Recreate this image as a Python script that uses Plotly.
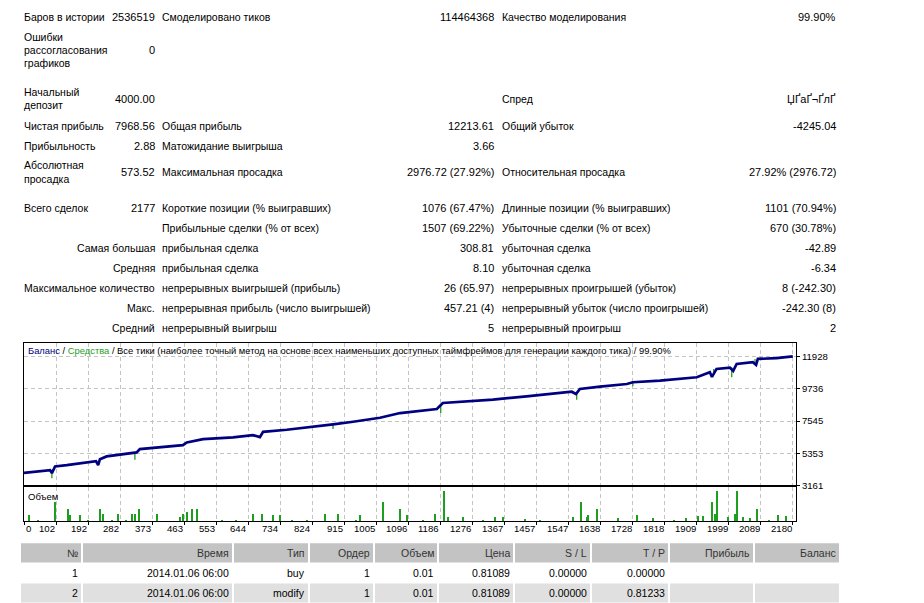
import plotly.graph_objects as go

W, H = 924, 603

# ---------------- data ----------------
balance_trade = [0, 74, 79, 88, 121, 204, 210, 215, 234, 319, 328, 365, 450, 461, 507, 592,
                 648, 668, 677, 744, 838, 875, 932, 1008, 1065, 1169, 1186, 1291, 1328, 1423,
                 1551, 1563, 1574, 1631, 1707, 1724, 1801, 1905, 1942, 1948, 1961, 1999, 2008,
                 2018, 2064, 2073, 2078, 2131, 2177]
balance_value = [4000, 4188, 3983, 4442, 4531, 4805, 4531, 4942, 5127, 5401, 5627, 5695, 5901,
                 6086, 6312, 6428, 6585, 6449, 6812, 6949, 7181, 7318, 7497, 7770, 8092, 8366,
                 8777, 8935, 9003, 9236, 9551, 9394, 9736, 9894, 10078, 10195, 10305, 10538,
                 10880, 10558, 11106, 11195, 10969, 11448, 11565, 11380, 11791, 11839, 11969]

# equity excursions away from the balance line (trade, from, to)
equity_trade = [79, 314, 668, 875, 1180, 1565, 1724, 1953, 2004, 2070]
equity_from = [4188, 5401, 6585, 7318, 8640, 9551, 10195, 10880, 11195, 11565]
equity_to = [3640, 4894, 6380, 7000, 8092, 9003, 9921, 11106, 10538, 11791]

volume_trade = [15, 40, 88, 125, 130, 159, 180, 215, 224, 250, 266, 290, 305, 314, 326, 376,
                442, 450, 461, 475, 489, 560, 600, 648, 673, 705, 725, 760, 800, 852, 889,
                940, 951, 1016, 1065, 1084, 1130, 1164, 1189, 1201, 1243, 1300, 1334, 1356,
                1419, 1460, 1555, 1576, 1593, 1597, 1622, 1682, 1735, 1781, 1840, 1876, 1909,
                1922, 1947, 1957, 1963, 1993, 2013, 2018, 2036, 2056, 2075, 2110, 2135, 2158]
volume_lots = [0.06, 0.01, 0.18, 0.12, 0.06, 0.06, 0.01, 0.12, 0.07, 0.01, 0.07, 0.01, 0.07,
               0.07, 0.12, 0.07, 0.04, 0.07, 0.09, 0.12, 0.12, 0.01, 0.01, 0.07, 0.07, 0.06,
               0.06, 0.01, 0.01, 0.07, 0.07, 0.01, 0.06, 0.18, 0.12, 0.06, 0.01, 0.07, 0.29,
               0.04, 0.04, 0.01, 0.04, 0.04, 0.02, 0.01, 0.04, 0.18, 0.04, 0.06, 0.12, 0.03,
               0.06, 0.03, 0.01, 0.03, 0.05, 0.05, 0.18, 0.07, 0.29, 0.04, 0.07, 0.29, 0.04,
               0.03, 0.12, 0.01, 0.06, 0.05]

x_tick_labels = ["0", "102", "192", "282", "373", "463", "553", "644", "734", "824", "915",
                 "1005", "1096", "1186", "1276", "1367", "1457", "1547", "1638", "1728",
                 "1818", "1909", "1999", "2089", "2180"]
y_tick_values = [3161, 5353, 7545, 9736, 11928]

# statistics rows: (label1, value1, label2, value2, label3, value3)
stats_rows = [
    (["Баров в истории"], "2536519", "Смоделировано тиков", "114464368", "Качество моделирования", "99.90%"),
    (["Ошибки", "рассогласования", "графиков"], "0", "", "", "", ""),
    (["Начальный", "депозит"], "4000.00", "", "", "Спред", "ЏҐаҐ¬ҐлҐ"),
    (["Чистая прибыль"], "7968.56", "Общая прибыль", "12213.61", "Общий убыток", "-4245.04"),
    (["Прибыльность"], "2.88", "Матожидание выигрыша", "3.66", "", ""),
    (["Абсолютная", "просадка"], "573.52", "Максимальная просадка", "2976.72 (27.92%)", "Относительная просадка", "27.92% (2976.72)"),
    (["Всего сделок"], "2177", "Короткие позиции (% выигравших)", "1076 (67.47%)", "Длинные позиции (% выигравших)", "1101 (70.94%)"),
    ([""], "", "Прибыльные сделки (% от всех)", "1507 (69.22%)", "Убыточные сделки (% от всех)", "670 (30.78%)"),
]
stats_rows_right = [
    ("Самая большая", "прибыльная сделка", "308.81", "убыточная сделка", "-42.89"),
    ("Средняя", "прибыльная сделка", "8.10", "убыточная сделка", "-6.34"),
    ("Максимальное количество", "непрерывных выигрышей (прибыль)", "26 (65.97)", "непрерывных проигрышей (убыток)", "8 (-242.30)"),
    ("Макс.", "непрерывная прибыль (число выигрышей)", "457.21 (4)", "непрерывный убыток (число проигрышей)", "-242.30 (8)"),
    ("Средний", "непрерывный выигрыш", "5", "непрерывный проигрыш", "2"),
]

table_header = ["№", "Время", "Тип", "Ордер", "Объем", "Цена", "S / L", "T / P", "Прибыль", "Баланс"]
table_rows = [
    ["1", "2014.01.06 06:00", "buy", "1", "0.01", "0.81089", "0.00000", "0.00000", "", ""],
    ["2", "2014.01.06 06:00", "modify", "1", "0.01", "0.81089", "0.00000", "0.81233", "", ""],
]

# ---------------- layout helpers ----------------
FONT = "Liberation Sans, Arial, sans-serif"
H_EFF = 596.5
annotations = []
shapes = []


def px_x(x):
    return x / W


def px_y(y):
    return 1 - y / H_EFF


def ann(text, x, y, anchor="left", size=10.5, color="#000000", family=FONT):
    annotations.append(dict(text=text, x=px_x(x), y=px_y(y), xref="paper", yref="paper",
                            xanchor=anchor, yanchor="middle", showarrow=False,
                            font=dict(family=family, size=size, color=color), borderpad=0))


LAB, NUM, AXF = 10.5, 11, 9.6
# statistics block
C1L, C1V, C2L, C2V, C3L, C3V = 23, 156, 161, 495, 501, 837
row_y = [17, 50, 98.5, 125.5, 145.5, 171.5, 207.5, 227.5]
for (l1, v1, l2, v2, l3, v3), yc in zip(stats_rows, row_y):
    n = len(l1)
    for i, line in enumerate(l1):
        ann(line, C1L, yc + (i - (n - 1) / 2) * 13.2, size=LAB)
    ann(v1, C1V, yc, "right", size=NUM)
    ann(l2, C2L, yc, size=LAB)
    ann(v2, C2V, yc, "right", size=NUM)
    ann(l3, C3L, yc, size=LAB)
    ann(v3, C3V, yc, "right", size=NUM)

row_y2 = [247.5, 267.5, 287.5, 307.5, 327.5]
for (a, b, c, d, e), yc in zip(stats_rows_right, row_y2):
    ann(a, C1V, yc, "right", size=LAB)
    ann(b, C2L, yc, size=LAB)
    ann(c, C2V, yc, "right", size=NUM)
    ann(d, C3L, yc, size=LAB)
    ann(e, C3V, yc, "right", size=NUM)

# bottom trade table
col_edges = [(21, 81), (83, 232), (234, 308), (310, 373), (375, 437), (439, 513),
             (515, 590), (592, 668), (670, 753), (755, 839)]
row_bounds = [(542, 561), (562, 581), (582, 601)]
row_fill = ["#C3C3C3", "#FFFFFF", "#E0E0E0"]
for r, (cells, (y0, y1), fill) in enumerate(zip([table_header] + table_rows, row_bounds, row_fill)):
    for (x0, x1), txt in zip(col_edges, cells):
        shapes.append(dict(type="rect", xref="paper", yref="paper", x0=px_x(x0), x1=px_x(x1),
                           y0=px_y(y1), y1=px_y(y0), fillcolor=fill, line=dict(width=0),
                           layer="below"))
        ann(txt, x1 - 2.5, (y0 + y1) / 2 + 0.5, "right", size=10.5,
            color="#333333" if r == 0 else "#000000")

# ---------------- chart geometry ----------------
X0, X1 = 24, 796
MAIN_TOP, MAIN_BOT = 342, 484
VOL_TOP, VOL_BOT = 486, 520
X_MAX = 2186
Y_MIN = y_tick_values[0]
Y_PER_PX = (y_tick_values[-1] - y_tick_values[0]) / (4 * 32)
Y_MAX = Y_MIN + (MAIN_BOT - MAIN_TOP) * Y_PER_PX
TICK_STEP = 32.03 * X_MAX / (X1 - X0)
tickvals = [i * TICK_STEP for i in range(len(x_tick_labels))]

fig = go.Figure()

# equity excursions (green)
ex, ey = [], []
for t, a, b in zip(equity_trade, equity_from, equity_to):
    ex += [t, t, None]
    ey += [a, b, None]
fig.add_trace(go.Scatter(x=ex, y=ey, mode="lines", line=dict(color="#1E9E1E", width=1.3),
                         xaxis="x", yaxis="y", hoverinfo="skip", showlegend=False))
# balance (navy)
fig.add_trace(go.Scatter(x=balance_trade, y=balance_value, mode="lines",
                         line=dict(color="#000080", width=2.7), xaxis="x", yaxis="y",
                         showlegend=False))
# volume
fig.add_trace(go.Bar(x=volume_trade, y=volume_lots, width=3.0, marker=dict(color="#1E9E1E", line=dict(width=0)),
                     xaxis="x2", yaxis="y2", showlegend=False))

grid = dict(showgrid=True, gridcolor="#C4C4C4", griddash="4px,3px", gridwidth=1)
frame = dict(showline=True, linecolor="#000000", linewidth=1, mirror=True, zeroline=False)

fig.update_layout(
    width=W, height=H, margin=dict(l=0, r=0, t=0, b=0), autosize=False,
    paper_bgcolor="#FFFFFF", plot_bgcolor="#FFFFFF", bargap=0,
    xaxis=dict(domain=[px_x(X0), px_x(X1)], range=[0, X_MAX], anchor="y", tickvals=tickvals,
               showticklabels=False, ticks="", **grid, **frame),
    yaxis=dict(domain=[px_y(MAIN_BOT), px_y(MAIN_TOP)], range=[Y_MIN, Y_MAX], anchor="x",
               side="right", tickvals=y_tick_values, ticktext=[str(v) for v in y_tick_values],
               ticks="outside", ticklen=3, tickcolor="#000000",
               tickfont=dict(family=FONT, size=AXF, color="#000000"),
               **grid, **frame),
    xaxis2=dict(domain=[px_x(X0), px_x(X1)], range=[0, X_MAX], anchor="y2", tickvals=tickvals,
                showticklabels=False, ticks="outside", ticklen=3, tickcolor="#000000", **grid, **frame),
    yaxis2=dict(domain=[px_y(VOL_BOT), px_y(VOL_TOP)], range=[0, 0.33], anchor="x2",
                showticklabels=False, ticks="", showgrid=False, **frame),
    annotations=annotations, shapes=shapes,
)

# chart captions
fig.add_annotation(text="<span style='color:#000080'>Баланс</span> / <span style='color:#1E9E1E'>Средства</span> / "
                        "Все тики (наиболее точный метод на основе всех наименьших доступных таймфреймов для генерации каждого тика) / 99.90%",
                   x=px_x(27), y=px_y(350), xref="paper", yref="paper", xanchor="left", yanchor="middle",
                   showarrow=False, font=dict(family=FONT, size=9.4, color="#000000"), borderpad=0)
fig.add_annotation(text="Объем", x=px_x(27), y=px_y(495), xref="paper", yref="paper", xanchor="left",
                   yanchor="middle", showarrow=False, font=dict(family=FONT, size=9.5, color="#000000"), borderpad=0)

# x tick labels right-aligned at their tick (first one left-aligned)
for i, (tv, lab) in enumerate(zip(tickvals, x_tick_labels)):
    fig.add_annotation(text=lab, x=tv, y=px_y(527.5), xref="x2", yref="paper",
                       xanchor="left" if i == 0 else "right", yanchor="middle", showarrow=False,
                       xshift=1 if i == 0 else 0,
                       font=dict(family=FONT, size=AXF, color="#000000"), borderpad=0)

fig.write_html("out.html")
